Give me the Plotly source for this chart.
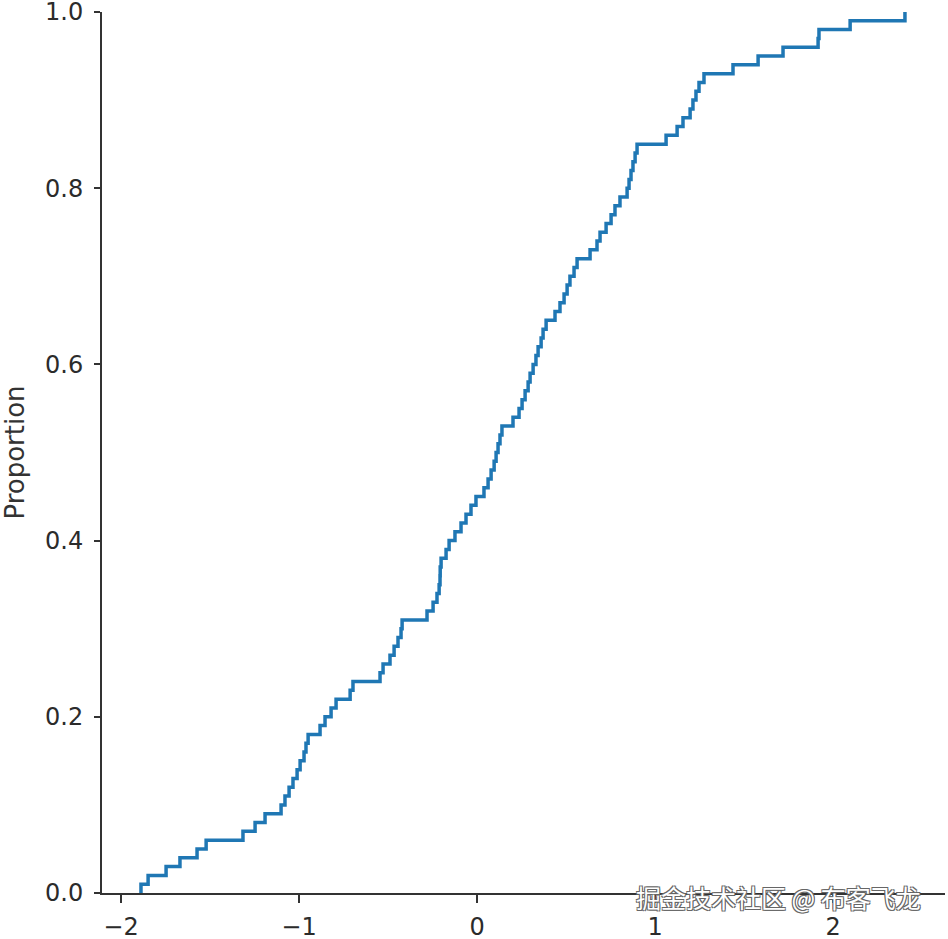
import plotly.graph_objects as go

# Sorted sample values read from the ECDF steps (each step = 1/100)
samples = [
    -1.888, -1.848, -1.747, -1.669, -1.573, -1.522, -1.315, -1.247, -1.191, -1.101,
    -1.079, -1.056, -1.034, -1.011, -0.994, -0.972, -0.961, -0.949, -0.882, -0.854,
    -0.820, -0.792, -0.713, -0.697, -0.545, -0.528, -0.489, -0.466, -0.444, -0.427,
    -0.421, -0.281, -0.247, -0.225, -0.213, -0.208, -0.207, -0.202, -0.174, -0.157,
    -0.124, -0.090, -0.062, -0.034, -0.006, 0.039, 0.062, 0.079, 0.096, 0.107,
    0.118, 0.129, 0.140, 0.202, 0.236, 0.253, 0.270, 0.287, 0.298, 0.315,
    0.331, 0.343, 0.360, 0.371, 0.388, 0.438, 0.466, 0.489, 0.506, 0.522,
    0.545, 0.562, 0.635, 0.674, 0.691, 0.725, 0.753, 0.775, 0.803, 0.843,
    0.854, 0.865, 0.876, 0.888, 0.899, 1.062, 1.124, 1.157, 1.197, 1.213,
    1.230, 1.247, 1.275, 1.438, 1.579, 1.719, 1.916, 1.921, 2.096, 2.404,
]
x_ticks = [-2, -1, 0, 1, 2]
x_tick_labels = ["\u22122", "\u22121", "0", "1", "2"]
y_ticks = [0.0, 0.2, 0.4, 0.6, 0.8, 1.0]
y_tick_labels = ["0.0", "0.2", "0.4", "0.6", "0.8", "1.0"]
watermark = "掘金技术社区 @ 布客飞龙"

n = len(samples)
xs = [samples[0]] + samples
ys = [0.0] + [(i + 1) / n for i in range(n)]

fig = go.Figure()
fig.add_trace(go.Scatter(
    x=xs, y=ys, mode="lines", line=dict(color="#1f77b4", width=3.5, shape="hv"),
    showlegend=False, hoverinfo="skip", cliponaxis=False,
))

axis_font = dict(family="DejaVu Sans", size=24, color="#2b2b2b")
fig.update_layout(
    width=948, height=939,
    margin=dict(l=102, r=3, t=12, b=46),
    paper_bgcolor="white", plot_bgcolor="white",
    xaxis=dict(
        range=[-2.107, 2.629], tickvals=x_ticks, ticktext=x_tick_labels,
        showgrid=False, zeroline=False, showline=True, linecolor="#333333", linewidth=2,
        ticks="outside", ticklen=8, tickwidth=2, tickcolor="#333333", tickfont=axis_font,
        automargin=False, ticklabelstandoff=3, ticklabeloverflow="allow",
    ),
    yaxis=dict(
        range=[0, 1], tickvals=y_ticks, ticktext=y_tick_labels,
        showgrid=False, zeroline=False, showline=True, linecolor="#333333", linewidth=2,
        ticks="outside", ticklen=6, tickwidth=2, tickcolor="#333333", tickfont=axis_font,
        automargin=False, ticklabelstandoff=6, ticklabeloverflow="allow",
        title=dict(text="Proportion", font=dict(family="DejaVu Sans", size=26, color="#333333"), standoff=19),
    ),
)
fig.add_annotation(
    text=watermark, xref="paper", yref="paper", x=0.974, y=-0.004, xanchor="right", yanchor="middle",
    showarrow=False,
    font=dict(family="Noto Sans CJK SC", size=25, color="white",
              shadow="-1px -1px 0 #666, 1px -1px 0 #666, -1px 1px 0 #666, 1px 1px 0 #666"),
)

fig.write_html("out.html", config={"displayModeBar": False},
               post_script="document.body.style.margin='0';")
